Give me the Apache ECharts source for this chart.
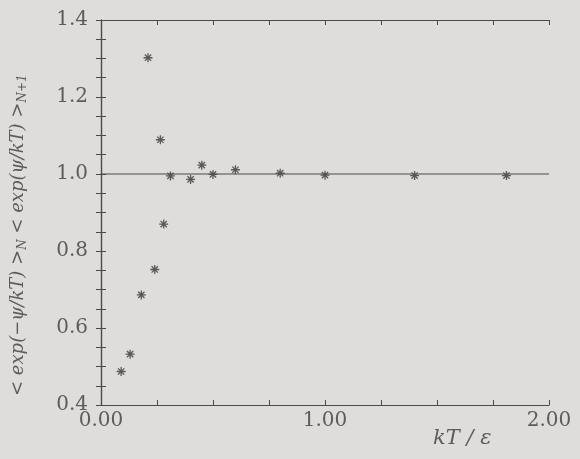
<!DOCTYPE html>
<html>
<head>
<meta charset="utf-8">
<title>exp ratio vs kT</title>
<script src="https://cdn.jsdelivr.net/npm/echarts@6/dist/echarts.min.js"></script>
<style>
  html, body { margin: 0; padding: 0; background: #dedddb; }
  #chart { width: 580px; height: 459px; }
</style>
</head>
<body>
<div id="chart"></div>
<script>
// data
var kT = [0.09, 0.13, 0.18, 0.21, 0.24, 0.265, 0.28, 0.31, 0.40, 0.45, 0.50, 0.60, 0.80, 1.00, 1.40, 1.81];
var ratio = [0.487, 0.532, 0.686, 1.302, 0.752, 1.089, 0.870, 0.995, 0.986, 1.023, 0.999, 1.011, 1.002, 0.997, 0.996, 0.996];
var refLevel = 1.0;
var xTicks = [0, 1, 2];
var yTicks = [0.4, 0.6, 0.8, 1.0, 1.2, 1.4];

var ink = '#4a4a4a';
var txt = '#5c5c5c';
var serif = '"DejaVu Serif", "Liberation Serif", serif';

// asterisk marker
var star = 'path://M0,5 L10,5 M5,0 L5,10 M1.5,1.5 L8.5,8.5 M8.5,1.5 L1.5,8.5';

function isTick(v, list) {
  return list.some(function (t) { return Math.abs(t - v) < 1e-6; });
}

var chart = echarts.init(document.getElementById('chart'));

var axisBase = {
  axisLine: { lineStyle: { color: ink, width: 1.2 } },
  axisTick: { inside: true, length: 5, lineStyle: { color: ink } },
  splitLine: { show: false }
};

chart.setOption({
  backgroundColor: '#dedddb',
  animation: false,
  grid: { left: 101, right: 31, top: 20, bottom: 54 },
  xAxis: [
    Object.assign({
      type: 'value', min: 0, max: 2, interval: 0.25, position: 'bottom',
      axisLabel: {
        color: txt, fontFamily: serif, fontSize: 20, margin: 6,
        formatter: function (v) { return isTick(v, xTicks) ? v.toFixed(2) : ''; }
      }
    }, axisBase),
    Object.assign({
      type: 'value', min: 0, max: 2, interval: 0.25, position: 'top',
      axisLabel: { show: false }
    }, axisBase)
  ],
  yAxis: [
    Object.assign({
      type: 'value', min: 0.4, max: 1.4, interval: 0.05, position: 'left',
      axisLabel: {
        color: txt, fontFamily: serif, fontSize: 20, margin: 13,
        formatter: function (v) { return isTick(v, yTicks) ? v.toFixed(1) : ''; }
      }
    }, axisBase),
    Object.assign({
      type: 'value', min: 0.4, max: 1.4, interval: 0.05, position: 'right',
      axisLabel: { show: false }
    }, axisBase)
  ],
  series: [
    {
      type: 'line',
      data: [[0, refLevel], [2, refLevel]],
      symbol: 'none',
      lineStyle: { color: ink, width: 1.2 },
      silent: true
    },
    {
      type: 'scatter',
      data: kT.map(function (x, i) { return [x, ratio[i]]; }),
      symbol: star,
      symbolSize: 9,
      itemStyle: { color: 'none', borderColor: '#383838', borderWidth: 1.3 }
    }
  ],
  graphic: [
    {
      type: 'text',
      x: 8, y: 396,
      rotation: Math.PI / 2,
      style: {
        text: '{m|< exp(−ψ/kT) >}{s|N}{m| < exp(ψ/kT) >}{s|N+1}',
        rich: {
          m: { fontFamily: serif, fontStyle: 'italic', fontSize: 18, fill: txt },
          s: { fontFamily: serif, fontStyle: 'italic', fontSize: 12, fill: txt, padding: [9, 0, 0, 0] }
        }
      }
    },
    {
      type: 'text',
      left: 433, top: 428,
      style: {
        text: 'kT / ε',
        fontFamily: serif, fontStyle: 'italic', fontSize: 21, fill: txt
      }
    }
  ]
});
</script>
</body>
</html>
